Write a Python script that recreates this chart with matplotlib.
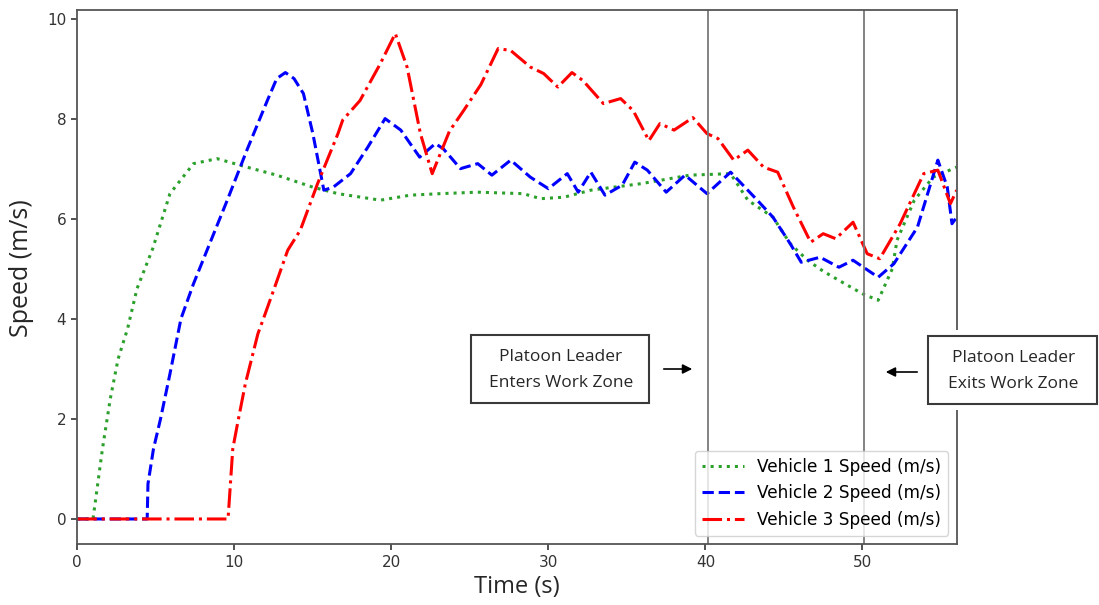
import matplotlib
matplotlib.use("Agg")
import matplotlib.pyplot as plt
from matplotlib.patches import Rectangle, FancyArrowPatch

# speed traces of the three platoon vehicles (time in s, speed in m/s)
v1_time = [0, 1.0, 1.6, 2.1, 2.6, 3.2, 3.8, 4.8, 5.9, 7.4, 8.9, 10.8, 12.7, 15.0,
           16.6, 19.3, 21.2, 23.1, 25.5, 28.4, 29.5, 31.0, 32.7, 35.9, 39.0, 41.6,
           42.7, 44.3, 45.4, 46.5, 47.5, 48.6, 50.0, 51.0, 51.9, 52.2, 53.3, 54.5, 56.0]
v1_speed = [0, 0, 1.4, 2.4, 3.2, 3.8, 4.6, 5.4, 6.5, 7.1, 7.2, 7.03, 6.87, 6.63,
            6.5, 6.37, 6.47, 6.5, 6.53, 6.5, 6.4, 6.43, 6.57, 6.7, 6.87, 6.9,
            6.37, 6.03, 5.5, 5.17, 4.95, 4.75, 4.5, 4.37, 5.0, 5.57, 6.37, 6.83, 7.03]

v2_time = [0, 4.45, 4.5, 4.85, 5.3, 5.9, 6.6, 7.4, 8.3, 9.55, 10.8, 12.1, 12.7, 13.25,
           13.8, 14.4, 15.0, 15.7, 16.3, 17.4, 18.5, 19.6, 20.6, 21.8, 22.8, 23.3,
           24.4, 25.5, 26.4, 27.6, 28.85, 30.0, 31.2, 31.9, 32.7, 33.6, 34.7, 35.5,
           36.3, 37.5, 38.7, 40.1, 41.6, 43.3, 44.3, 45.4, 46.1, 47.3, 48.5, 49.4,
           51.0, 52.0, 53.5, 54.8, 55.4, 55.7, 56.0]
v2_speed = [0, 0, 0.7, 1.4, 2.0, 2.9, 4.0, 4.7, 5.4, 6.37, 7.37, 8.36, 8.8, 8.92,
            8.8, 8.5, 7.7, 6.57, 6.63, 6.9, 7.43, 8.0, 7.77, 7.23, 7.5, 7.4,
            7.0, 7.1, 6.87, 7.17, 6.83, 6.6, 6.9, 6.53, 6.93, 6.47, 6.67, 7.13,
            6.97, 6.53, 6.87, 6.5, 6.93, 6.37, 6.03, 5.5, 5.13, 5.23, 5.03, 5.17,
            4.83, 5.1, 5.83, 7.17, 6.63, 5.9, 6.03]

v3_time = [0, 9.6, 9.9, 10.2, 10.7, 11.5, 11.85, 12.5, 13.4, 14.2, 15.3, 16.6, 16.9,
           18.0, 19.3, 20.25, 21.0, 21.85, 22.6, 23.7, 24.6, 25.7, 26.8, 27.6, 28.85,
           29.7, 30.6, 31.5, 32.2, 33.5, 34.6, 35.4, 36.4, 37.1, 38.0, 39.2, 40.1,
           40.8, 41.8, 42.7, 43.7, 44.6, 45.6, 46.7, 47.5, 48.3, 49.4, 50.3, 51.1,
           52.4, 53.9, 54.8, 55.6, 56.0]
v3_speed = [0, 0, 1.4, 1.9, 2.7, 3.7, 4.0, 4.57, 5.37, 5.77, 6.7, 7.7, 7.97,
            8.36, 9.1, 9.7, 9.03, 7.7, 6.9, 7.75, 8.16, 8.68, 9.4, 9.36, 9.03,
            8.9, 8.63, 8.92, 8.76, 8.3, 8.4, 8.16, 7.56, 7.9, 7.77, 8.02, 7.7,
            7.6, 7.17, 7.37, 7.03, 6.93, 6.23, 5.53, 5.7, 5.6, 5.93, 5.3, 5.2,
            5.9, 6.9, 6.97, 6.3, 6.57]

# work zone entry / exit of the platoon leader
zone_times = [40.17, 50.1]

W, H = 1099, 605


def fx(px):
    return px / W


def fy(py):
    return 1 - py / H


fig = plt.figure(figsize=(W / 100, H / 100), dpi=100)
ax = fig.add_axes([fx(77.3), fy(544), fx(956.7) - fx(77.3), fy(10) - fy(544)])

ax.plot(v1_time, v1_speed, ":", color="#2ca02c", lw=2.2, label="Vehicle 1 Speed (m/s)")
ax.plot(v2_time, v2_speed, "--", color="#0000ff", lw=2.2, label="Vehicle 2 Speed (m/s)")
ax.plot(v3_time, v3_speed, "-.", color="#ff0000", lw=2.2, label="Vehicle 3 Speed (m/s)")

for t in zone_times:
    ax.axvline(t, color="#7a7a7a", lw=1.3)

ax.set_xlim(0, 56)
ax.set_ylim(-0.5, 10.17)
ax.set_xticks([0, 10, 20, 30, 40, 50])
ax.set_yticks([0, 2, 4, 6, 8, 10])
ax.tick_params(labelsize=11, colors="#333333", length=4.5, width=1.2)
for s in ax.spines.values():
    s.set_color("#555555")
    s.set_linewidth(1.3)

ax.set_xlabel("Time (s)", fontsize=17, family="Open Sans", color="#262626")
ax.set_ylabel("Speed (m/s)", fontsize=18, family="Open Sans", color="#262626")
ax.xaxis.set_label_coords(0.5, -0.08)
ax.xaxis.label.set_va("center")
ax.yaxis.set_label_coords(-0.063, 0.517)
ax.yaxis.label.set_va("center")

ax.legend(loc="lower right", fontsize=12.2, handlelength=2.5)

# annotation boxes with arrows pointing at the zone lines
boxes = [
    ((471, 335, 649, 403), "Platoon Leader\nEnters Work Zone", (661, 369), (695, 369)),
    ((928, 336, 1097, 404), "Platoon Leader\nExits Work Zone", (920, 372), (883, 372)),
]
for (x0, y0, x1, y1), label, a_from, a_to in boxes:
    pad = 6
    fig.add_artist(Rectangle((fx(x0 - pad), fy(y1 + pad)), fx(x1 + pad) - fx(x0 - pad),
                             fy(y0 - pad) - fy(y1 + pad), transform=fig.transFigure,
                             facecolor="white", edgecolor="none", zorder=5))
    fig.add_artist(Rectangle((fx(x0), fy(y1)), fx(x1) - fx(x0), fy(y0) - fy(y1),
                             transform=fig.transFigure, facecolor="white",
                             edgecolor="#3a3a3a", lw=1.5, zorder=6))
    fig.text(fx((x0 + x1) / 2 + 1), fy((y0 + y1) / 2 + 1), label, ha="center", va="center",
             fontsize=12.5, family="Open Sans", color="#262626", linespacing=1.85, zorder=7)
    fig.add_artist(FancyArrowPatch((fx(a_from[0]), fy(a_from[1])), (fx(a_to[0]), fy(a_to[1])),
                                   transform=fig.transFigure, arrowstyle="-|>",
                                   mutation_scale=14, color="black", lw=1.2, zorder=7))

fig.savefig("out.png", dpi=100)
